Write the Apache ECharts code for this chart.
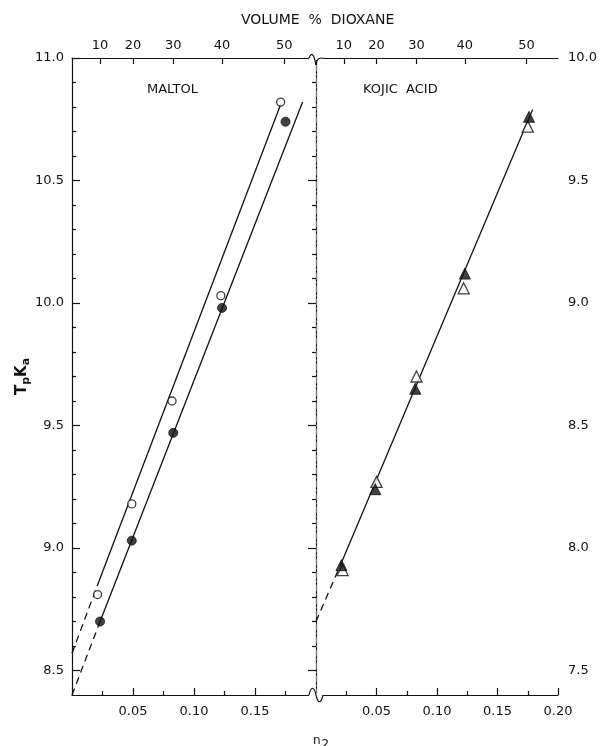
<!DOCTYPE html>
<html lang="en">
<head>
<meta charset="UTF-8" />
<title>TpKa vs n2</title>
<script src="https://cdn.jsdelivr.net/npm/echarts@6.0.0/dist/echarts.min.js"></script>
</head>
<body style="margin:0;background:#fff;">
<div id="main" style="width:600px;height:746px;"></div>
<script>
// top axis: volume % dioxane and the matching mole fraction n2
var volumePct = [10, 20, 30, 40, 50];
var volumeN2 = [0.023, 0.050, 0.083, 0.123, 0.174];

// tick values
var n2LeftLabels = [0.05, 0.10, 0.15];
var n2RightLabels = [0.05, 0.10, 0.15, 0.20];
var n2Minor = [0.025, 0.075, 0.125, 0.175];
var maltolTicks = [8.5, 9.0, 9.5, 10.0, 10.5, 11.0];
var maltolMinor = [8.6, 8.7, 8.8, 8.9, 9.1, 9.2, 9.3, 9.4, 9.6, 9.7, 9.8, 9.9, 10.1, 10.2, 10.3, 10.4, 10.6, 10.7, 10.8, 10.9];
var kojicTicks = [7.5, 8.0, 8.5, 9.0, 9.5, 10.0];
var kojicMinor = [7.6, 7.7, 7.8, 7.9, 8.1, 8.2, 8.3, 8.4, 8.6, 8.7, 8.8, 8.9, 9.1, 9.2, 9.3, 9.4, 9.6, 9.7, 9.8, 9.9];

// maltol (left scale)
var maltolOpenN2 = [0.021, 0.049, 0.082, 0.122, 0.171];
var maltolOpenPKa = [8.81, 9.18, 9.60, 10.03, 10.82];
var maltolFilledN2 = [0.023, 0.049, 0.083, 0.123, 0.175];
var maltolFilledPKa = [8.70, 9.03, 9.47, 9.98, 10.74];
// kojic acid (right scale)
var kojicOpenN2 = [0.022, 0.050, 0.083, 0.122, 0.175];
var kojicOpenPKa = [7.91, 8.27, 8.70, 9.06, 9.72];
var kojicFilledN2 = [0.021, 0.049, 0.082, 0.123, 0.176];
var kojicFilledPKa = [7.93, 8.24, 8.65, 9.12, 9.76];

// fitted lines: [extrapolated start, first point, end]
var maltolOpenFitN2 = [0, 0.021, 0.171];
var maltolOpenFitPKa = [8.57, 8.85, 10.81];
var maltolFilledFitN2 = [0, 0.023, 0.189];
var maltolFilledFitPKa = [8.40, 8.70, 10.82];
var kojicFitN2 = [0, 0.021, 0.179];
var kojicFitPKa = [7.70, 7.94, 9.79];

var font = 'DejaVu Sans';
var ink = '#111';

function pairs(xs, ys) {
  return xs.map(function (x, i) { return [x, ys[i]]; });
}

function volLabel(v) {
  var best = 0;
  for (var i = 1; i < volumeN2.length; i++) {
    if (Math.abs(volumeN2[i] - v) < Math.abs(volumeN2[best] - v)) best = i;
  }
  return String(volumePct[best]);
}

function xAx(grid, extra) {
  return Object.assign({
    type: 'value', gridIndex: grid, min: 0, max: 0.2,
    splitLine: { show: false },
    axisLine: { show: false },
    axisTick: { show: false },
    axisLabel: { show: false }
  }, extra);
}
function yAx(grid, min, max, extra) {
  return Object.assign({
    type: 'value', gridIndex: grid, min: min, max: max,
    splitLine: { show: false },
    axisLine: { show: false },
    axisTick: { show: false },
    axisLabel: { show: false }
  }, extra);
}

var lineStyle = { color: ink, width: 1.2 };
var labelStyle = { color: ink, fontFamily: font, fontSize: 13 };

var xAxes = [];
var yAxes = [];
[0, 1].forEach(function (g) {
  var labels = g === 0 ? n2LeftLabels : n2RightLabels;
  // bottom, major ticks + labels
  xAxes.push(xAx(g, {
    position: 'bottom',
    axisLine: { show: true, lineStyle: lineStyle },
    axisTick: { show: true, inside: true, length: 7, lineStyle: lineStyle, customValues: labels },
    axisLabel: Object.assign({ show: true, margin: 10, customValues: labels,
      formatter: function (v) { return v.toFixed(2); } }, labelStyle)
  }));
  // bottom, minor ticks
  xAxes.push(xAx(g, {
    position: 'bottom',
    axisTick: { show: true, inside: true, length: 4, lineStyle: lineStyle, customValues: n2Minor }
  }));
  // top, volume % dioxane
  xAxes.push(xAx(g, {
    position: 'top',
    axisLine: { show: true, lineStyle: lineStyle },
    axisTick: { show: true, inside: true, length: 6, lineStyle: lineStyle, customValues: volumeN2 },
    axisLabel: Object.assign({ show: true, margin: 6, customValues: volumeN2, formatter: volLabel }, labelStyle)
  }));
});

// left panel y (maltol)
yAxes.push(yAx(0, 8.4, 11.0, {
  position: 'left',
  name: 'T{s|p}K{s|a}',
  nameLocation: 'middle',
  nameRotate: 90,
  nameGap: 34,
  nameTextStyle: {
    color: ink, fontFamily: font, fontSize: 15, fontWeight: 'bold',
    rich: { s: { fontFamily: font, fontSize: 11, fontWeight: 'bold', color: ink, padding: [8, 0, 0, 0] } }
  },
  axisLine: { show: true, lineStyle: lineStyle },
  axisTick: { show: true, inside: true, length: 8, lineStyle: lineStyle, customValues: maltolTicks },
  axisLabel: Object.assign({ show: true, margin: 8, customValues: maltolTicks,
    formatter: function (v) { return v.toFixed(1); } }, labelStyle)
}));
yAxes.push(yAx(0, 8.4, 11.0, {
  position: 'left',
  axisTick: { show: true, inside: true, length: 4, lineStyle: lineStyle, customValues: maltolMinor }
}));
// right panel y (kojic acid)
yAxes.push(yAx(1, 7.4, 10.0, {
  position: 'right',
  axisLine: { show: true, lineStyle: lineStyle },
  axisTick: { show: true, inside: true, length: 8, lineStyle: lineStyle, customValues: kojicTicks },
  axisLabel: Object.assign({ show: true, margin: 10, customValues: kojicTicks,
    formatter: function (v) { return v.toFixed(1); } }, labelStyle)
}));
yAxes.push(yAx(1, 7.4, 10.0, {
  position: 'right',
  axisTick: { show: true, inside: true, length: 4, lineStyle: lineStyle, customValues: kojicMinor }
}));
// break between panels
yAxes.push(yAx(1, 7.4, 10.0, {
  position: 'left',
  axisLine: { show: true, lineStyle: { color: '#777', width: 1, type: [6, 3, 1, 3] } }
}));

function fitSeries(xi, yi, xs, ys) {
  var pts = pairs(xs, ys);
  return [
    { type: 'line', xAxisIndex: xi, yAxisIndex: yi, data: pts.slice(0, 2), symbol: 'none', silent: true,
      lineStyle: { color: ink, width: 1.3, type: [7, 5] } },
    { type: 'line', xAxisIndex: xi, yAxisIndex: yi, data: pts.slice(1), symbol: 'none', silent: true,
      lineStyle: { color: ink, width: 1.3 } }
  ];
}

var openStyle = { color: '#fff', borderColor: ink, borderWidth: 1.3 };
var filledStyle = { color: ink, borderColor: ink, borderWidth: 1 };

var series = []
  .concat(fitSeries(0, 0, maltolOpenFitN2, maltolOpenFitPKa))
  .concat(fitSeries(0, 0, maltolFilledFitN2, maltolFilledFitPKa))
  .concat(fitSeries(3, 2, kojicFitN2, kojicFitPKa))
  .concat([
    { type: 'scatter', xAxisIndex: 0, yAxisIndex: 0, data: pairs(maltolOpenN2, maltolOpenPKa),
      symbol: 'circle', symbolSize: 8, itemStyle: openStyle, z: 5 },
    { type: 'scatter', xAxisIndex: 0, yAxisIndex: 0, data: pairs(maltolFilledN2, maltolFilledPKa),
      symbol: 'circle', symbolSize: 9, itemStyle: filledStyle, z: 5 },
    { type: 'scatter', xAxisIndex: 3, yAxisIndex: 2, data: pairs(kojicOpenN2, kojicOpenPKa),
      symbol: 'triangle', symbolSize: 11, itemStyle: openStyle, z: 5 },
    { type: 'scatter', xAxisIndex: 3, yAxisIndex: 2, data: pairs(kojicFilledN2, kojicFilledPKa),
      symbol: 'triangle', symbolSize: 11, itemStyle: filledStyle, z: 6 }
  ]);

var chart = echarts.init(document.getElementById('main'));
chart.setOption({
  animation: false,
  backgroundColor: '#fff',
  title: [
    { text: 'VOLUME  %  DIOXANE', left: 236, top: 8,
      textStyle: { color: ink, fontFamily: font, fontSize: 14, fontWeight: 'normal' } },
    { text: 'MALTOL', left: 142, top: 78,
      textStyle: { color: ink, fontFamily: font, fontSize: 13, fontWeight: 'normal' } },
    { text: 'KOJIC  ACID', left: 358, top: 78,
      textStyle: { color: ink, fontFamily: font, fontSize: 13, fontWeight: 'normal' } },
    { text: 'n{s|2}', left: 308, top: 726,
      textStyle: { color: ink, fontFamily: font, fontSize: 12, fontWeight: 'normal',
        rich: { s: { fontFamily: font, fontSize: 12, color: ink, padding: [8, 0, 0, 1] } } } }
  ],
  grid: [
    { left: 72, width: 244, top: 58, bottom: 51 },
    { left: 316, right: 39, top: 58, bottom: 51 }
  ],
  xAxis: xAxes,
  yAxis: yAxes,
  series: series
});

// small break marks where the two panels meet
var breakTop = chart.convertToPixel({ xAxisIndex: 3, yAxisIndex: 2 }, [0, 10.0]);
var breakBot = chart.convertToPixel({ xAxisIndex: 3, yAxisIndex: 2 }, [0, 7.4]);
var bx = breakTop[0], ty = breakTop[1], by = breakBot[1];
var markStyle = { fill: 'none', stroke: ink, lineWidth: 1.2 };
chart.setOption({
  graphic: [
    { type: 'rect', z: 50, shape: { x: bx - 7, y: ty - 2, width: 14, height: 4 }, style: { fill: '#fff' } },
    { type: 'bezierCurve', z: 51, style: markStyle,
      shape: { x1: bx - 7, y1: ty, cpx1: bx - 4, cpy1: ty - 7, cpx2: bx - 2, cpy2: ty - 3, x2: bx, y2: ty + 7 } },
    { type: 'bezierCurve', z: 51, style: markStyle,
      shape: { x1: bx, y1: ty + 7, cpx1: bx + 1, cpy1: ty, cpx2: bx + 3, cpy2: ty, x2: bx + 7, y2: ty } },
    { type: 'rect', z: 50, shape: { x: bx - 7, y: by - 2, width: 14, height: 4 }, style: { fill: '#fff' } },
    { type: 'bezierCurve', z: 51, style: markStyle,
      shape: { x1: bx - 7, y1: by, cpx1: bx - 5, cpy1: by - 9, cpx2: bx - 2, cpy2: by - 9, x2: bx, y2: by } },
    { type: 'bezierCurve', z: 51, style: markStyle,
      shape: { x1: bx, y1: by, cpx1: bx + 2, cpy1: by + 9, cpx2: bx + 5, cpy2: by + 9, x2: bx + 7, y2: by } }
  ]
});
</script>
</body>
</html>
